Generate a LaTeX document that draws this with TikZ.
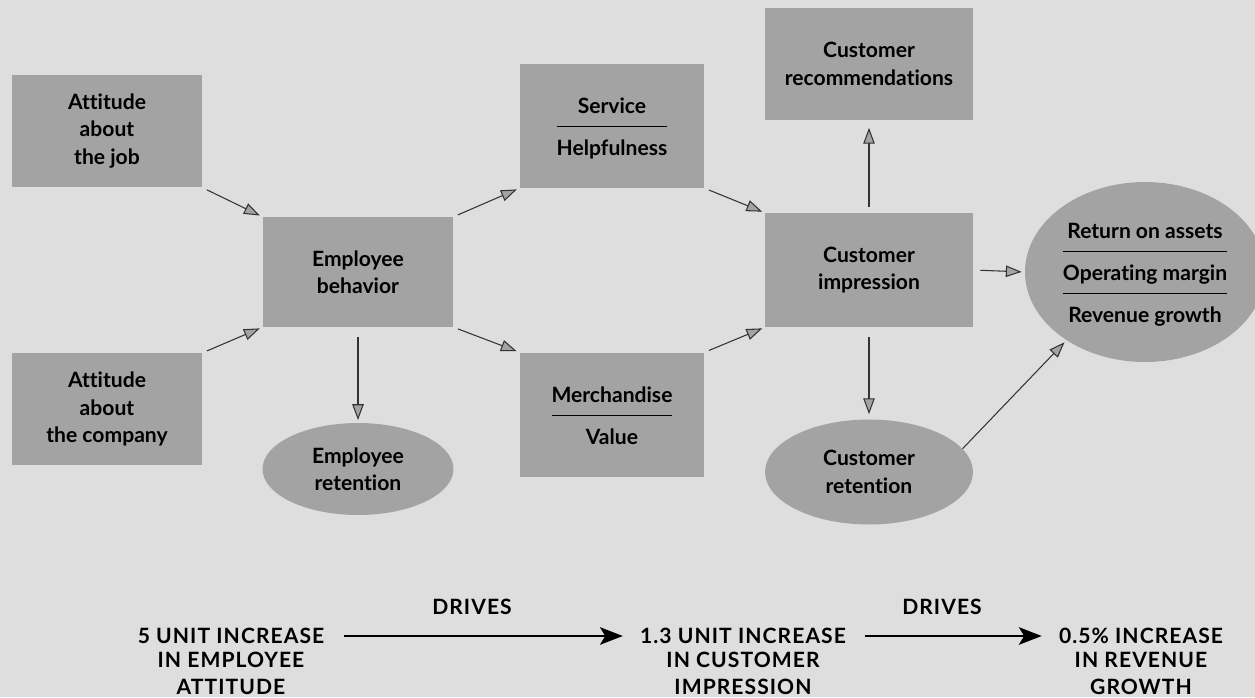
\documentclass[tikz,border=0pt]{standalone}
\usepackage{fontspec}
\setmainfont{Lato}[Ligatures={NoCommon,NoRare}]
\usetikzlibrary{arrows.meta,shapes.geometric,positioning}
\definecolor{bgcol}{gray}{0.87}
\definecolor{boxcol}{gray}{0.64}
\definecolor{linecol}{gray}{0.2}
\begin{document}
\begin{tikzpicture}[x=0.02cm,y=-0.02cm,
  boxtxt/.style={font=\fontsize{12}{15.6}\selectfont\bfseries, align=center, inner sep=0pt},
  box/.style={boxtxt, rectangle, fill=boxcol},
  oval/.style={boxtxt, ellipse, fill=boxcol},
  conn/.style={draw=linecol, line width=0.6pt, shorten <=2.5pt, shorten >=1.5pt,
    -{Triangle[length=9pt,width=6.5pt,fill=boxcol]}},
  bigarrow/.style={draw=black, line width=1.1pt, shorten <=0.26cm, shorten >=0.22cm,
    -{Stealth[length=13pt,width=10pt,inset=3pt]}},
  captxt/.style={font=\fontsize{12}{15.2}\selectfont\bfseries\addfontfeatures{LetterSpace=5}, align=center, inner sep=0.12cm}]
\useasboundingbox (0,0) rectangle (1255,697);
\fill[bgcol] (0,0) rectangle (1255,697);
\clip (0,0) rectangle (1255,697);

% upper diagram
\node[box, minimum width=3.82cm, minimum height=2.26cm] (job) at (107,131) {Attitude\\about\\the job};
\node[box, minimum width=3.82cm, minimum height=2.24cm] (comp) at (107,409) {Attitude\\about\\the company};
\node[box, minimum width=3.82cm, minimum height=2.2cm] (beh) at (358,272) {Employee\\behavior};
\node[oval, minimum width=3.82cm, minimum height=1.84cm] (eret) at (358,469) {Employee\\retention};
\node[box, minimum width=3.7cm, minimum height=2.48cm] (serv) at (612,126)
  {\renewcommand{\arraystretch}{1.5}\begin{tabular}{@{}c@{}}Service\\\hline Helpfulness\end{tabular}};
\node[box, minimum width=3.7cm, minimum height=2.5cm] (merch) at (612,415)
  {\renewcommand{\arraystretch}{1.5}\begin{tabular}{@{}c@{}}Merchandise\\\hline Value\end{tabular}};
\node[box, minimum width=4.16cm, minimum height=2.24cm] (rec) at (869,64) {Customer\\recommendations};
\node[box, minimum width=4.16cm, minimum height=2.28cm] (imp) at (869,270) {Customer\\impression};
\node[oval, minimum width=4.16cm, minimum height=2.1cm] (cret) at (869,472) {Customer\\retention};
\node[oval, minimum width=4.8cm, minimum height=3.6cm] (fin) at (1145,272)
  {\renewcommand{\arraystretch}{1.5}\begin{tabular}{@{}c@{}}Return on assets\\\hline Operating margin\\\hline Revenue growth\end{tabular}};

\draw[conn] (job.south east) -- (beh.north west);
\draw[conn] (comp.north east) -- (beh.south west);
\draw[conn] (beh.north east) -- (serv.south west);
\draw[conn] (beh.south east) -- (merch.north west);
\draw[conn] (serv.south east) -- (imp.north west);
\draw[conn] (merch.north east) -- (imp.south west);
\draw[conn, shorten <=0.2cm] (beh.south) -- (eret.north);
\draw[conn, shorten <=0.12cm, shorten >=0.15cm] (imp.north) -- (rec.south);
\draw[conn, shorten <=0.2cm, shorten >=0.1cm] (imp.south) -- (cret.north);
\draw[conn, shorten <=0.14cm, shorten >=0.06cm] (imp.east) -- (fin.west);
\draw[conn, shorten <=0pt] (cret.14) -- (fin.221);

% lower summary line
\node[captxt] (t1) at (231,636) {5 UNIT INCREASE};
\node[captxt, below=1pt of t1, inner sep=0pt] (t1b) {IN EMPLOYEE\\ATTITUDE};
\node[captxt] (t2) at (743,636) {1.3 UNIT INCREASE};
\node[captxt, below=1pt of t2, inner sep=0pt] (t2b) {IN CUSTOMER\\IMPRESSION};
\node[captxt] (t3) at (1141,636) {0.5\% INCREASE};
\node[captxt, below=1pt of t3, inner sep=0pt] (t3b) {IN REVENUE\\GROWTH};
\node[captxt] (d1) at (472,607) {DRIVES};
\node[captxt] (d2) at (942,607) {DRIVES};
\draw[bigarrow] (t1) -- (t2);
\draw[bigarrow] (t2) -- (t3);
\end{tikzpicture}
\end{document}
